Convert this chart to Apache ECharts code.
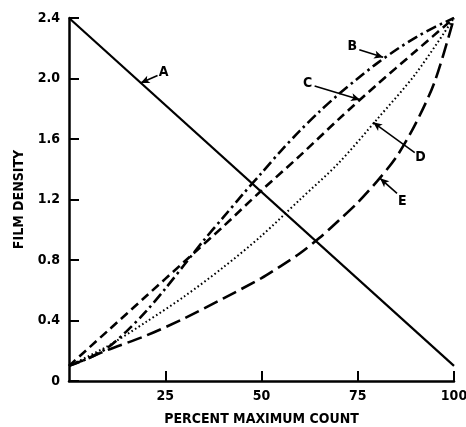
<!DOCTYPE html>
<html>
<head>
<meta charset="utf-8">
<script src="https://cdn.jsdelivr.net/npm/echarts@6/dist/echarts.min.js"></script>
<style>
    html, body { margin: 0; padding: 0; background: #fff; }
    #chart { width: 466px; height: 427px; }
</style>
</head>
<body>
<div id="chart"></div>
<script>
// percent maximum count (x) vs film density (y)
var curveA = [[0, 2.4], [100, 0.1]];
var curveB = [[0, 0.1], [5, 0.15], [10, 0.22], [15, 0.33], [20, 0.46], [25, 0.61], [30, 0.77], [35, 0.93], [40, 1.08],
    [45, 1.23], [50, 1.375], [55, 1.52], [60, 1.655], [65, 1.78], [70, 1.895], [75, 2.0], [80, 2.1], [85, 2.19], [90, 2.27], [95, 2.34], [100, 2.4]];
var curveC = [[0, 0.1], [10, 0.33], [20, 0.56], [30, 0.79], [40, 1.02], [50, 1.26], [60, 1.49], [70, 1.73], [80, 1.96], [90, 2.18], [100, 2.4]];
var curveD = [[0, 0.1], [10, 0.23], [20, 0.39], [30, 0.56], [40, 0.75], [50, 0.96], [60, 1.2], [70, 1.44], [80, 1.73], [90, 2.03], [100, 2.4]];
var curveE = [[0, 0.1], [5, 0.15], [10, 0.205], [20, 0.3], [30, 0.415], [40, 0.545], [50, 0.68], [55, 0.76], [60, 0.845], [65, 0.945], [70, 1.06],
    [75, 1.18], [80, 1.32], [85, 1.48], [90, 1.7], [95, 1.98], [100, 2.4]];

var yTicks = [0, 0.4, 0.8, 1.2, 1.6, 2.0, 2.4];
var xTicks = [25, 50, 75, 100];

// curve letters and their pointer arrows (data coords)
var tagNames = ['A', 'B', 'C', 'D', 'E'];
var tagPos = [[24.6, 2.04], [73.6, 2.21], [62, 1.97], [91.3, 1.48], [86.6, 1.19]];
var arrowFrom = [[23, 2.02], [75.4, 2.19], [63.8, 1.95], [89.8, 1.51], [85.2, 1.24]];
var arrowTo = [[18.6, 1.97], [81.6, 2.14], [75.6, 1.86], [79, 1.71], [80.8, 1.34]];

var fnt = '"DejaVu Sans Condensed", "DejaVu Sans", sans-serif';

var myChart = echarts.init(document.getElementById('chart'));

var arrows = [];
for (var i = 0; i < tagNames.length; i++) {
    arrows.push([{coord: arrowFrom[i], symbol: 'none'}, {coord: arrowTo[i], symbol: 'arrow', symbolSize: [6, 9]}]);
}
var tags = [];
for (var j = 0; j < tagNames.length; j++) {
    tags.push([tagPos[j][0], tagPos[j][1], tagNames[j]]);
}

function curve(name, data, type, w) {
    return {
        name: name,
        type: 'line',
        data: data,
        smooth: 0.3,
        showSymbol: false,
        lineStyle: {color: '#000', width: w, type: type, cap: 'butt'},
        z: 3
    };
}

var option = {
    animation: false,
    backgroundColor: '#fff',
    grid: {left: 69, right: 12, top: 18, bottom: 46, containLabel: false, outerBoundsMode: 'none'},
    xAxis: {
        type: 'value',
        min: 0,
        max: 100,
        interval: 25,
        name: 'PERCENT MAXIMUM COUNT',
        nameLocation: 'middle',
        nameGap: 31,
        nameTextStyle: {color: '#000', fontFamily: fnt, fontWeight: 'bold', fontSize: 14},
        axisLine: {lineStyle: {color: '#000', width: 2.5}},
        axisTick: {inside: true, length: 10, lineStyle: {color: '#000', width: 2}},
        axisLabel: {
            showMinLabel: false,
            color: '#000', fontFamily: fnt, fontWeight: 'bold', fontSize: 14, margin: 8,
            formatter: function (v) { return xTicks.indexOf(v) >= 0 ? String(v) : ''; }
        },
        splitLine: {show: false}
    },
    yAxis: {
        type: 'value',
        min: 0,
        max: 2.4,
        interval: 0.4,
        name: 'FILM DENSITY',
        nameLocation: 'middle',
        nameGap: 38,
        nameTextStyle: {color: '#000', fontFamily: fnt, fontWeight: 'bold', fontSize: 14},
        axisLine: {lineStyle: {color: '#000', width: 2.5}},
        axisTick: {inside: true, length: 10, lineStyle: {color: '#000', width: 2}},
        axisLabel: {
            color: '#000', fontFamily: fnt, fontWeight: 'bold', fontSize: 14, margin: 9,
            formatter: function (v) {
                var t = Math.round(v * 10) / 10;
                for (var k = 0; k < yTicks.length; k++) {
                    if (Math.abs(yTicks[k] - t) < 1e-6) return t === 0 ? '0' : t.toFixed(1);
                }
                return '';
            }
        },
        splitLine: {show: false}
    },
    series: [
        curve('A', curveA, 'solid', 2.2),
        curve('B', curveB, [11, 4, 2.5, 4], 2.6),
        curve('C', curveC, [9, 5], 2.6),
        curve('D', curveD, [1.6, 2.6], 2),
        curve('E', curveE, [15, 6], 2.6),
        {
            name: 'tags',
            type: 'scatter',
            data: tags,
            symbolSize: 1,
            itemStyle: {color: '#fff', opacity: 0},
            label: {
                show: true,
                position: 'inside',
                color: '#000',
                opacity: 1,
                fontFamily: fnt,
                fontWeight: 'bold',
                fontSize: 14,
                formatter: function (p) { return p.value[2]; }
            },
            markLine: {
                silent: true,
                symbol: ['none', 'arrow'],
                label: {show: false},
                lineStyle: {color: '#000', width: 1.6, type: 'solid', opacity: 1},
                data: arrows
            },
            z: 4
        }
    ]
};

myChart.setOption(option);
</script>
</body>
</html>
